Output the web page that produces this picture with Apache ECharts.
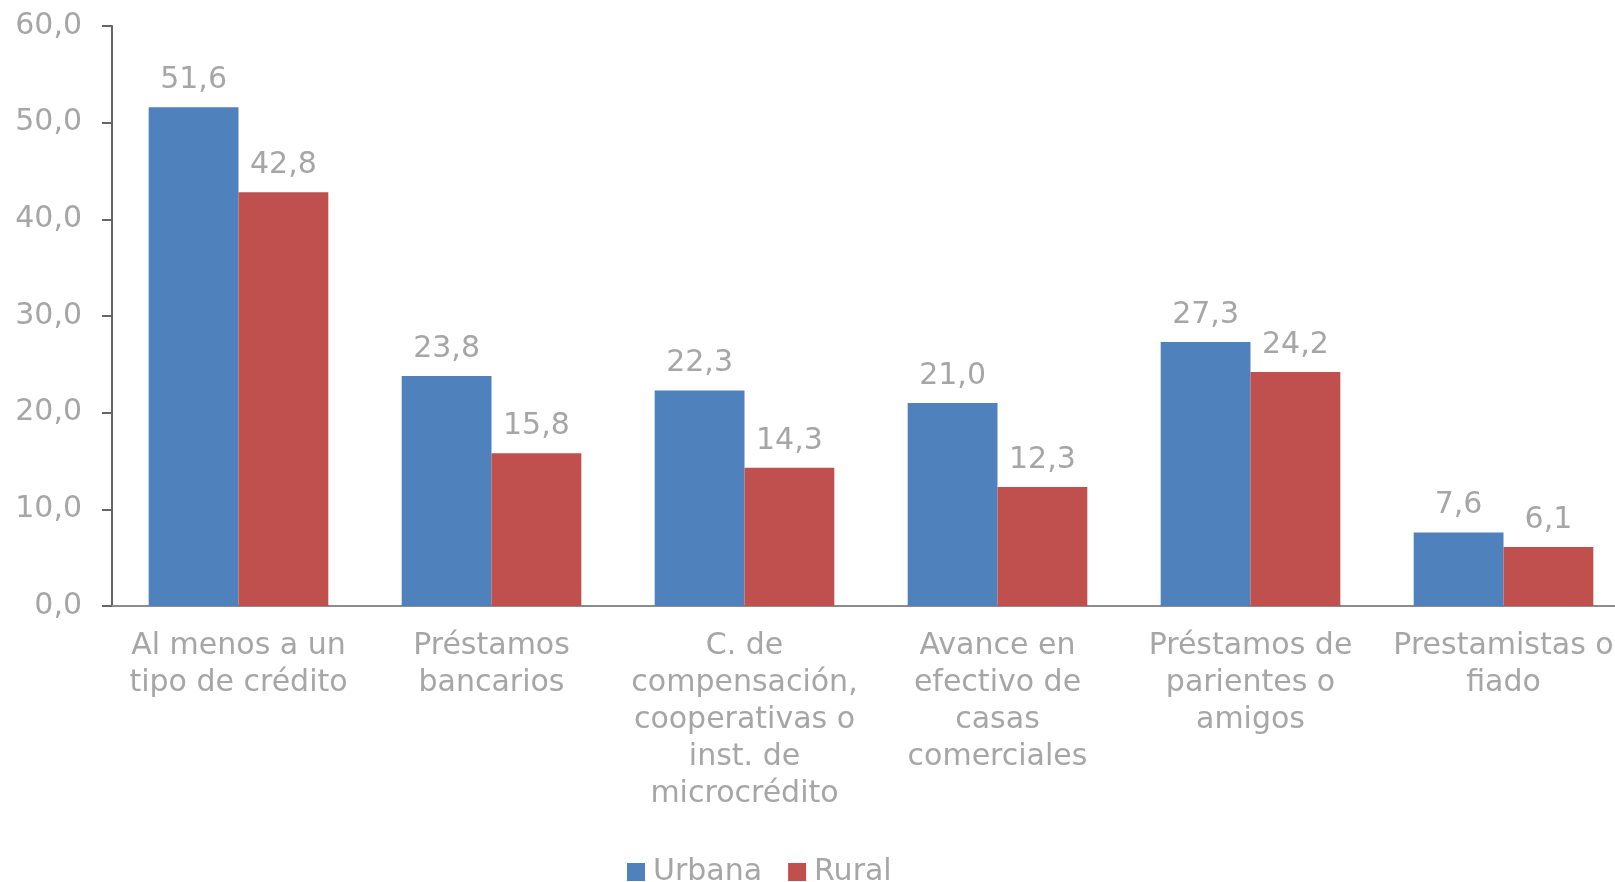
<!DOCTYPE html>
<html>
<head>
<meta charset="utf-8">
<script src="https://cdn.jsdelivr.net/npm/echarts@6/dist/echarts.min.js"></script>
<style>
  html, body { margin: 0; padding: 0; background: #fff; }
  #chart { width: 1615px; height: 882px; }
</style>
</head>
<body>
<div id="chart"></div>
<script>
// categorias del eje x
var categorias = [
  "Al menos a un\ntipo de crédito",
  "Préstamos\nbancarios",
  "C. de\ncompensación,\ncooperativas o\ninst. de\nmicrocrédito",
  "Avance en\nefectivo de\ncasas\ncomerciales",
  "Préstamos de\nparientes o\namigos",
  "Prestamistas o\nfiado"
];
var urbana = [51.6, 23.8, 22.3, 21.0, 27.3, 7.6];
var rural = [42.8, 15.8, 14.3, 12.3, 24.2, 6.1];
var ticksY = [0, 10, 20, 30, 40, 50, 60];

var gris = "#a6a6a6";
var fuente = "DejaVu Sans";
var tam = 30;

function coma(v) {
  return v.toFixed(1).replace(".", ",");
}

var chart = echarts.init(document.getElementById("chart"));
var option = {
  animation: false,
  textStyle: { fontFamily: fuente },
  grid: { left: 112, top: 26, right: -15, bottom: 276, outerBoundsMode: "none", containLabel: false },
  legend: {
    top: 857,
    left: 627,
    padding: 0,
    itemWidth: 18,
    itemHeight: 18,
    itemGap: 26,
    icon: "rect",
    textStyle: { color: gris, fontSize: tam, fontFamily: fuente, padding: [0, 0, 0, 3] },
    data: ["Urbana", "Rural"]
  },
  xAxis: {
    type: "category",
    data: categorias,
    axisLine: { lineStyle: { color: "#8c8c8c", width: 2 } },
    axisTick: { show: false },
    axisLabel: {
      color: gris,
      fontSize: tam,
      lineHeight: 37,
      margin: 22,
      interval: 0,
      fontFamily: fuente
    }
  },
  yAxis: {
    type: "value",
    min: ticksY[0],
    max: ticksY[ticksY.length - 1],
    interval: 10,
    splitLine: { show: false },
    axisLine: { show: true, lineStyle: { color: "#666666", width: 2 } },
    axisTick: { show: true, length: 10, lineStyle: { color: "#666666", width: 2 } },
    axisLabel: {
      color: gris,
      fontSize: tam,
      margin: 30,
      fontFamily: fuente,
      formatter: function (v) { return coma(v); }
    }
  },
  series: [
    {
      name: "Urbana",
      type: "bar",
      data: urbana,
      barGap: "0%",
      barCategoryGap: "29%",
      itemStyle: { color: "#4f81bd" },
      label: {
        show: true,
        position: "top",
        distance: 12,
        color: gris,
        fontSize: tam,
        fontFamily: fuente,
        formatter: function (p) { return coma(p.value); }
      }
    },
    {
      name: "Rural",
      type: "bar",
      data: rural,
      barGap: "0%",
      barCategoryGap: "29%",
      itemStyle: { color: "#c0504d" },
      label: {
        show: true,
        position: "top",
        distance: 12,
        color: gris,
        fontSize: tam,
        fontFamily: fuente,
        formatter: function (p) { return coma(p.value); }
      }
    }
  ]
};
chart.setOption(option);
</script>
</body>
</html>
